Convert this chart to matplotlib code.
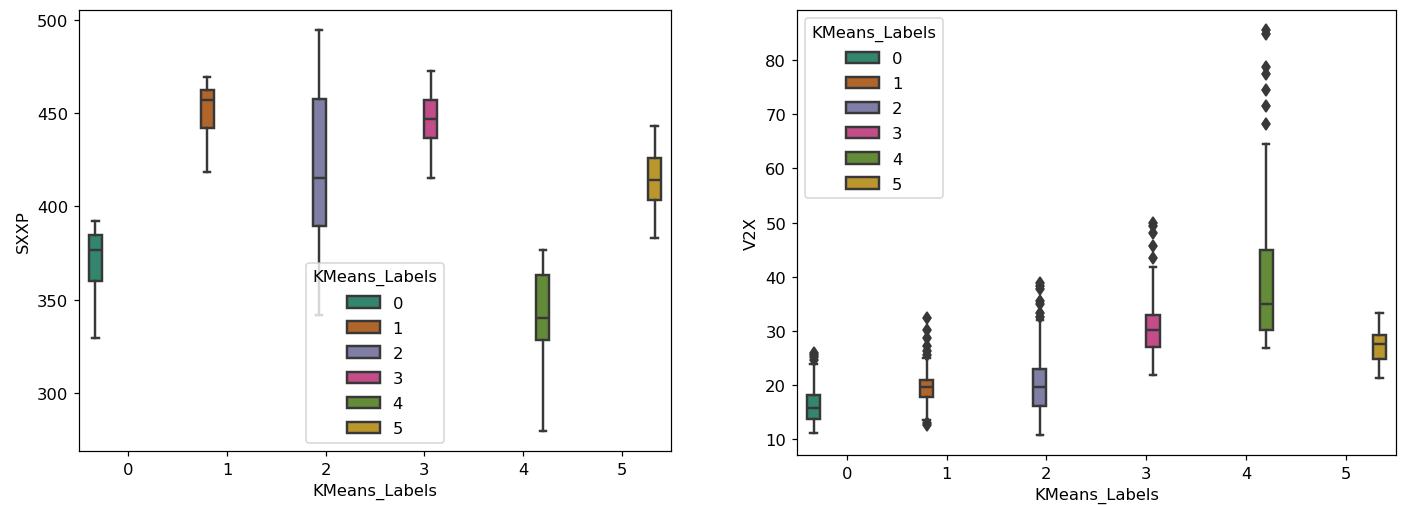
import colorsys

import matplotlib
matplotlib.use("Agg")
import matplotlib.pyplot as plt
from matplotlib.colors import to_rgb
from matplotlib.patches import Patch

labels = [0, 1, 2, 3, 4, 5]

# SXXP box stats per cluster
sxxp_whislo = [329.5, 418.4, 341.9, 415.2, 279.6, 383.2]
sxxp_q1 = [359.9, 442.0, 389.4, 436.9, 328.1, 403.6]
sxxp_med = [376.6, 456.9, 415.2, 446.7, 340.4, 414.0]
sxxp_q3 = [384.4, 462.6, 457.4, 457.1, 363.3, 426.1]
sxxp_whishi = [392.3, 469.6, 494.5, 472.8, 376.4, 443.3]

# V2X box stats per cluster
v2x_whislo = [11.2, 13.6, 10.8, 21.9, 26.9, 21.3]
v2x_q1 = [13.8, 17.7, 16.2, 27.0, 30.1, 24.8]
v2x_med = [15.8, 19.6, 19.6, 30.2, 34.9, 27.6]
v2x_q3 = [18.1, 20.9, 23.0, 33.0, 44.9, 29.3]
v2x_whishi = [23.9, 25.0, 32.0, 41.8, 64.5, 33.3]
v2x_fliers = [
    [24.6, 25.1, 25.5, 25.9],
    [12.6, 13.0, 25.6, 26.3, 27.2, 28.7, 30.1, 32.3],
    [32.6, 33.3, 34.9, 35.5, 37.7, 38.3, 38.8],
    [43.5, 45.7, 48.1, 49.4, 50.0],
    [68.2, 71.5, 74.4, 77.5, 78.7, 84.9, 85.5],
    [],
]

plt.rcParams["font.size"] = 10.7

# Dark2, desaturated the way seaborn does it
dark2 = ["#1b9e77", "#d95f02", "#7570b3", "#e7298a", "#66a61e", "#e6ab02"]
colors = []
for c in dark2:
    h, l, s = colorsys.rgb_to_hls(*to_rgb(c))
    colors.append(colorsys.hls_to_rgb(h, l, s * 0.62))
gray = (0.22, 0.22, 0.22)
lw = 1.6

n = len(labels)
each = 0.8 / n
offsets = [-0.4 + each / 2 + i * each for i in range(n)]
positions = [lab + off for lab, off in zip(labels, offsets)]
box_w = each * 0.98


def draw(ax, lo, q1, med, q3, hi, fliers, ylabel, legend_loc):
    stats = []
    for i in range(n):
        stats.append(dict(whislo=lo[i], q1=q1[i], med=med[i], q3=q3[i],
                          whishi=hi[i], fliers=fliers[i]))
    arts = ax.bxp(stats, positions=positions, widths=box_w, patch_artist=True,
                  boxprops=dict(edgecolor=gray, linewidth=lw),
                  medianprops=dict(color=gray, linewidth=lw),
                  whiskerprops=dict(color=gray, linewidth=lw),
                  capprops=dict(color=gray, linewidth=lw),
                  flierprops=dict(marker="d", markerfacecolor=gray,
                                  markeredgecolor=gray, markersize=5.5))
    for box, col in zip(arts["boxes"], colors):
        box.set_facecolor(col)
    ax.set_xlim(-0.5, 5.5)
    ax.set_xticks(labels)
    ax.set_xticklabels([str(x) for x in labels])
    ax.set_xlabel("KMeans_Labels")
    ax.set_ylabel(ylabel)
    handles = [Patch(facecolor=col, edgecolor=gray, linewidth=lw, label=str(lab))
               for lab, col in zip(labels, colors)]
    ax.legend(handles=handles, title="KMeans_Labels", loc=legend_loc,
              labelspacing=0.62)


fig = plt.figure(figsize=(12.8, 4.6), dpi=110)
ax1 = fig.add_axes([0.0561, 0.1067, 0.4205, 0.8715])
ax2 = fig.add_axes([0.566, 0.0988, 0.4254, 0.8794])

draw(ax1, sxxp_whislo, sxxp_q1, sxxp_med, sxxp_q3, sxxp_whishi,
     [[] for _ in labels], "SXXP", "lower center")
draw(ax2, v2x_whislo, v2x_q1, v2x_med, v2x_q3, v2x_whishi,
     v2x_fliers, "V2X", "upper left")

fig.savefig("out.png", dpi=110)
plt.close(fig)
